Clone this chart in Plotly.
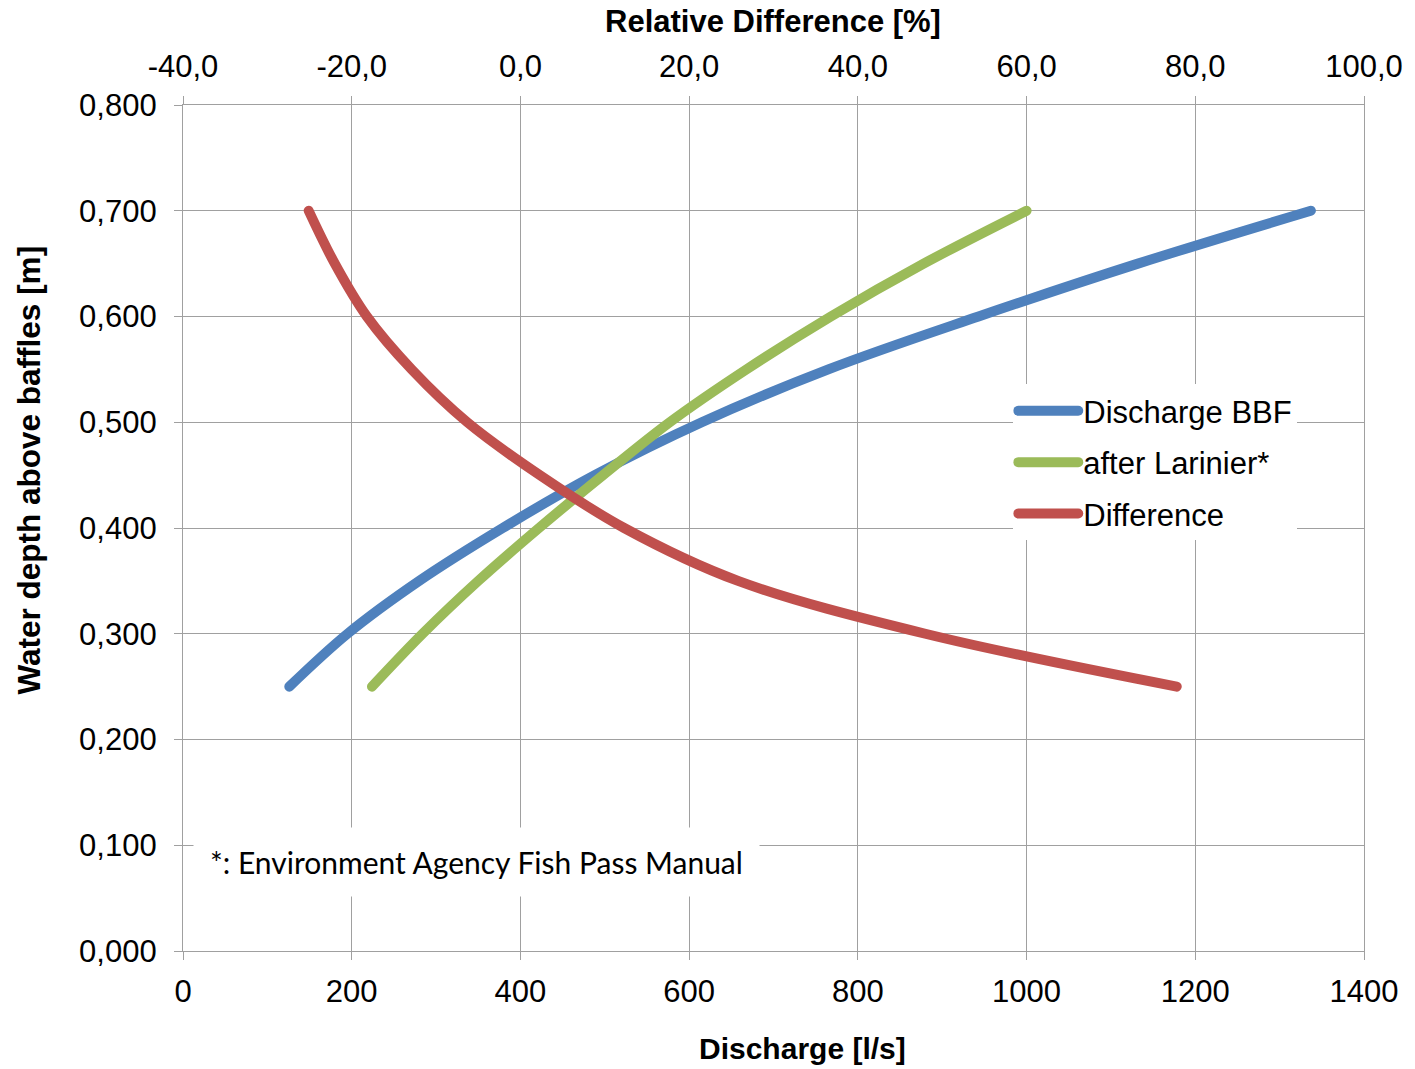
import plotly.graph_objects as go

# Water depth above baffles [m]
depth = [0.25, 0.30, 0.35, 0.40, 0.45, 0.50, 0.55, 0.60, 0.65, 0.70]
# Discharge BBF [l/s]
q_bbf = [126, 195, 280, 379, 488, 615, 765, 943, 1132, 1337]
# Discharge after Larinier [l/s]
q_larinier = [224, 284, 350, 422, 498, 577, 668, 768, 878, 1000]
# Relative difference [%]
rel_diff = [77.8, 48.0, 25.8, 12.3, 2.3, -6.3, -12.9, -18.2, -22.0, -25.1]

x_ticks = [0, 200, 400, 600, 800, 1000, 1200, 1400]
x2_ticks = [-40, -20, 0, 20, 40, 60, 80, 100]
x2_labels = [f"{v:.1f}".replace(".", ",") for v in x2_ticks]
y_ticks = [0.0, 0.1, 0.2, 0.3, 0.4, 0.5, 0.6, 0.7, 0.8]

BLUE = "#4F81BD"
GREEN = "#9BBB59"
RED = "#C0504D"
GRID = "#a0a0a0"
FONT = "Liberation Sans, Arial, sans-serif"

W, H = 1415, 1069
L, T, R, B = 183, 105, 47, 118

fig = go.Figure()
fig.add_trace(go.Scatter(x=q_bbf, y=depth, mode="lines", name="Discharge BBF",
                         line=dict(color=BLUE, width=10, shape="spline"),
                         legendgroup="a"))
fig.add_trace(go.Scatter(x=q_larinier, y=depth, mode="lines", name="after Larinier*",
                         line=dict(color=GREEN, width=10, shape="spline"),
                         legendgroup="b"))
fig.add_trace(go.Scatter(x=rel_diff, y=depth, mode="lines", name="Difference",
                         line=dict(color=RED, width=10, shape="spline"),
                         xaxis="x2", legendgroup="c"))

axis_common = dict(
    showgrid=True, gridcolor=GRID, gridwidth=1.2,
    showline=True, linecolor=GRID, linewidth=1.2,
    ticks="outside", ticklen=8, tickcolor=GRID, tickwidth=1.2,
    zeroline=False,
    tickfont=dict(family=FONT, size=31, color="#000"),
)

fig.update_layout(
    width=W, height=H,
    margin=dict(l=L, r=R, t=T, b=B),
    paper_bgcolor="white", plot_bgcolor="white",
    separators=", ",
    font=dict(family=FONT, color="#000"),
    xaxis=dict(range=[0, 1400], tickvals=x_ticks, tickformat="d",
               ticklabelstandoff=5,
               **axis_common),
    xaxis2=dict(range=[-40, 100], tickvals=x2_ticks, ticktext=x2_labels,
                overlaying="x", side="top", anchor="y",
                ticklabelstandoff=7,
                **{**axis_common, "showgrid": False}),
    yaxis=dict(range=[0, 0.8], tickvals=y_ticks, tickformat=".3f",
               ticklabelstandoff=11, mirror=True,
               **axis_common),
    legend=dict(x=0.703, y=0.67, xanchor="left", yanchor="top",
                bgcolor="white", borderwidth=0,
                font=dict(family=FONT, size=31, color="#000"),
                itemwidth=60, traceorder="grouped", tracegroupgap=8),
    showlegend=True,
)

pw = W - L - R
ph = H - T - B


def px(xp):
    return (xp - L) / pw


def py(yp):
    return (H - B - yp) / ph


fig.add_annotation(text="<b>Relative Difference [%]</b>", xref="paper", yref="paper",
                   x=px(775), y=py(22), xanchor="center", yanchor="middle",
                   showarrow=False, font=dict(family=FONT, size=31, color="#000"))
fig.add_annotation(text="<b>Discharge [l/s]</b>", xref="paper", yref="paper",
                   x=px(805), y=py(1048), xanchor="center", yanchor="middle",
                   showarrow=False, font=dict(family=FONT, size=30, color="#000"))
fig.add_annotation(text="<b>Water depth above baffles [m]</b>", xref="paper", yref="paper",
                   x=px(28), y=py(470), xanchor="center", yanchor="middle", textangle=-90,
                   showarrow=False, font=dict(family=FONT, size=31.5, color="#000"))

fig.add_annotation(text="*: Environment Agency Fish Pass Manual",
                   xref="paper", yref="paper", x=px(477), y=py(862),
                   xanchor="center", yanchor="middle",
                   showarrow=False, bgcolor="white", borderpad=16,
                   font=dict(family="Lato, Open Sans, sans-serif", size=30, color="#000"))

post = (
    "document.body.style.margin='0';"
    "document.querySelectorAll('path.js-line').forEach(function(p){"
    "p.style.strokeLinecap='round';p.style.strokeLinejoin='round';});"
)
fig.write_html("out.html", post_script=post, config={"displayModeBar": False})
